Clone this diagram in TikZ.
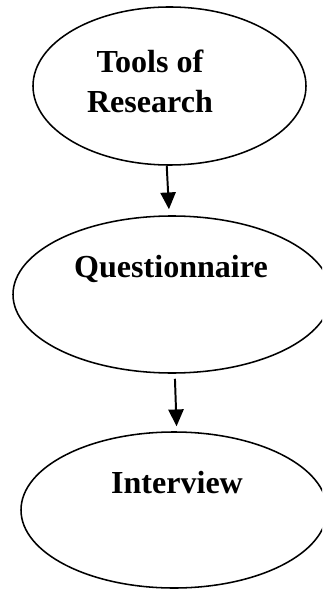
\documentclass[tikz,border=0pt]{standalone}
\usepackage{fontspec}
\setmainfont{Liberation Serif}
\usepackage{tikz}
\usetikzlibrary{arrows.meta,shapes.geometric,positioning}

\tikzset{oval/.style={draw,ellipse,line width=1.1pt,inner sep=0pt},
lbl/.style={inner sep=0pt,align=center,font=\fontsize{22.8}{28.5}\selectfont\bfseries},
arr/.style={line width=1.4pt,-{Triangle[length=0.42cm,width=0.38cm]}}}

\begin{document}
\begin{tikzpicture}[x=0.025cm,y=-0.025cm]
\useasboundingbox (0,0) rectangle (322,589);
\clip (0,0) rectangle (322,589);
%\draw[help lines] (0,0) grid[step=20] (322,589);
\foreach \n/\x/\y/\w/\h in {tools/169.5/86/273/158,quest/172/294.5/318/157,inter/174/510/306/156}
\node[oval,minimum width=\w*0.025cm,minimum height=\h*0.025cm] (\n) at (\x,\y) {};
%
\node[lbl] (tools-txt) at (150,81) {Tools of\\Research};
\node[lbl,anchor=base] (quest-txt) at (171,277) {Questionnaire};
\node[lbl,anchor=base] (inter-txt) at (177,493) {Interview};
%
\draw[arr,shorten >=6*0.025cm] (tools.268) -- (quest.92);
\draw[arr,shorten <=5*0.025cm,shorten >=5*0.025cm] (quest.272) -- (inter.88);
\end{tikzpicture}
\end{document}
